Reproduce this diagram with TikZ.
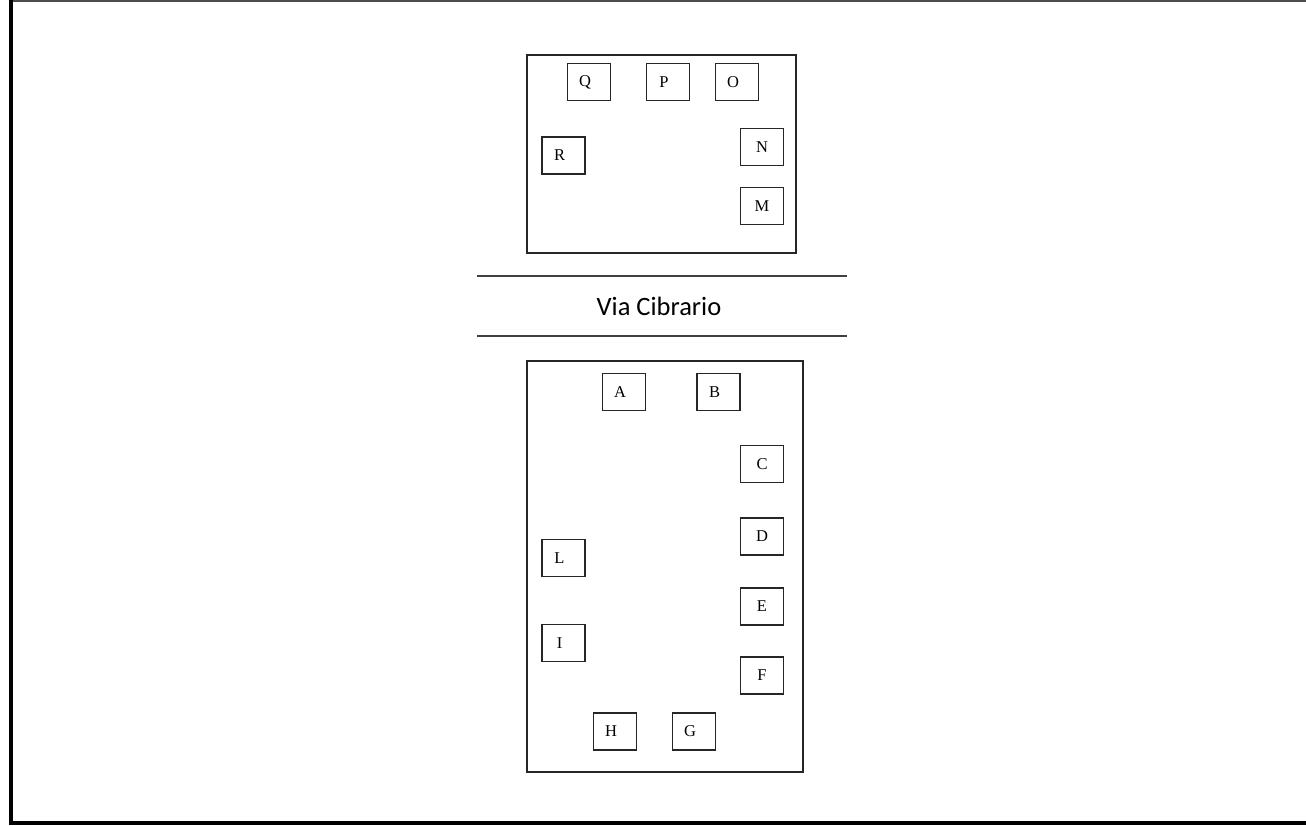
\documentclass[tikz,border=0pt]{standalone}
\usepackage{fontspec}
\setmainfont{Liberation Serif}
\newfontfamily\streetfont{Carlito}
\begin{document}
\begin{tikzpicture}[x=1pt,y=-1pt,
  seat/.style={draw=black!85,line width=1.3pt,minimum width=43pt,minimum height=37pt,inner sep=0pt,font=\fontsize{16.5}{16.5}\selectfont},
  room/.style={draw=black!85,line width=1.4pt},
  road/.style={draw=black!75,line width=1.4pt}]
\useasboundingbox (0,0) rectangle (1306,825);
% outer frame
\draw[line width=2.4pt,black!70] (11,1.2) -- (1306,1.2);
\draw[line width=4pt,black] (11,0) -- (11,823);
\draw[line width=3.5pt,black] (9,823.2) -- (1306,823.2);
% top room
\draw[room] (527,55) rectangle (796,253);
\node[seat] (Q) at (589,82) {\hspace*{-8pt}Q};
\node[seat] (P) at (668,82) {\hspace*{-8pt}P};
\node[seat] (O) at (737,82) {\hspace*{-8pt}O};
\node[seat] (R) at (563.5,155.5) {\hspace*{-8pt}R};
\node[seat] (N) at (762,147) {N};
\node[seat] (M) at (762,206) {M};
% street
\coordinate (s1a) at (477,276);
\coordinate (s1b) at (847,276);
\coordinate (s2a) at (477,336);
\coordinate (s2b) at (847,336);
\draw[road] (s1a) -- (s1b);
\draw[road] (s2a) -- (s2b);
\node[font=\streetfont\fontsize{26.5}{26.5}\selectfont] (via) at (659,306) {Via Cibrario};
% bottom room
\draw[room] (527,361) rectangle (803,772);
\node[seat] (A) at (624,392) {\hspace*{-8pt}A};
\node[seat] (B) at (718.5,392) {\hspace*{-8pt}B};
\node[seat] (C) at (762,464) {C};
\node[seat] (D) at (762,536.5) {D};
\node[seat] (L) at (563.5,558) {\hspace*{-8pt}L};
\node[seat] (E) at (762,606.5) {E};
\node[seat] (I) at (563.5,643) {\hspace*{-8pt}I};
\node[seat] (F) at (762,675.5) {F};
\node[seat] (H) at (615,731.5) {\hspace*{-8pt}H};
\node[seat] (G) at (694,731.5) {\hspace*{-8pt}G};
\end{tikzpicture}
\end{document}
